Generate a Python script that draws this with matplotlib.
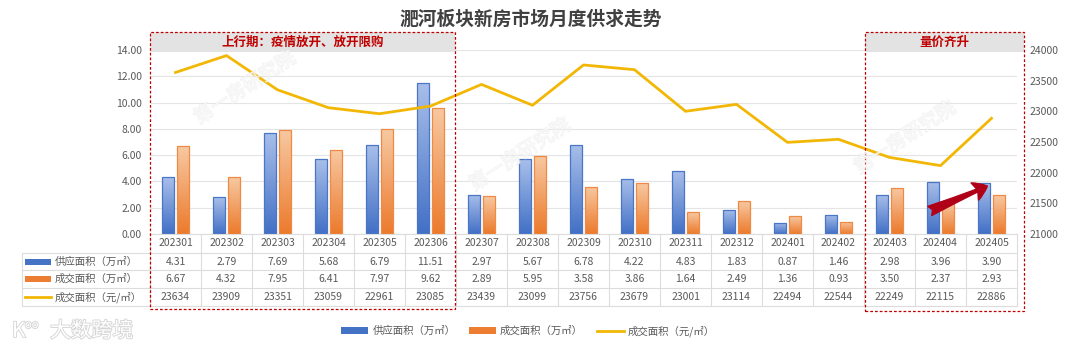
import matplotlib
matplotlib.use('Agg')
import matplotlib.pyplot as plt
import numpy as np
import matplotlib.transforms as mtransforms
import matplotlib.patheffects as pe
from matplotlib.patches import Rectangle, Patch, FancyArrowPatch
from matplotlib.lines import Line2D
from matplotlib.colors import LinearSegmentedColormap
from matplotlib.ticker import FormatStrFormatter

plt.rcParams['font.family'] = ['Noto Sans CJK SC', 'DejaVu Sans']

# ---------------- data ----------------
months = ['202301', '202302', '202303', '202304', '202305', '202306', '202307', '202308',
          '202309', '202310', '202311', '202312', '202401', '202402', '202403', '202404', '202405']
supply = [4.31, 2.79, 7.69, 5.68, 6.79, 11.51, 2.97, 5.67, 6.78, 4.22, 4.83, 1.83, 0.87, 1.46,
          2.98, 3.96, 3.90]
deal = [6.67, 4.32, 7.95, 6.41, 7.97, 9.62, 2.89, 5.95, 3.58, 3.86, 1.64, 2.49, 1.36, 0.93,
        3.50, 2.37, 2.93]
price = [23634, 23909, 23351, 23059, 22961, 23085, 23439, 23099, 23756, 23679, 23001, 23114,
         22494, 22544, 22249, 22115, 22886]
row_labels = ['供应面积（万㎡）', '成交面积（万㎡）', '成交面积（元/㎡）']
title = '淝河板块新房市场月度供求走势'
box1_label = '上行期：疫情放开、放开限购'
box2_label = '量价齐升'

BLUE = '#4472C4'
ORANGE = '#ED7D31'
GOLD = '#F2B705'
TXT = '#595959'

W, H = 1080, 353
fig = plt.figure(figsize=(W / 100, H / 100), dpi=100)
fig.patch.set_facecolor('white')


def fx(p):
    return p / W


def fy(p):
    return 1 - p / H


ax = fig.add_axes([fx(150), fy(234), 867 / W, (234 - 50) / H])
n = len(months)
x = np.arange(n)
ax.set_xlim(-0.5, n - 0.5)

# gradient bars
cm_blue = LinearSegmentedColormap.from_list('b', ['#4270C6', '#A9BFEA'])
cm_orange = LinearSegmentedColormap.from_list('o', ['#EC7A2C', '#F7C9A2'])
grad = np.linspace(0, 1, 128).reshape(-1, 1)
bw = 0.24
off = 0.14
b1 = ax.bar(x - off, supply, bw, facecolor='none', edgecolor='#4A76C6', lw=0.9, zorder=3)
b2 = ax.bar(x + off, deal, bw, facecolor='none', edgecolor='#EE8A45', lw=0.9, zorder=3)
for bars, cmap in ((b1, cm_blue), (b2, cm_orange)):
    for r in bars:
        x0, w, h = r.get_x(), r.get_width(), r.get_height()
        im = ax.imshow(grad, extent=[x0, x0 + w, 0, h], origin='lower', cmap=cmap,
                       aspect='auto', zorder=2.5, interpolation='bilinear')
        im.set_clip_path(r)

ax.set_xlim(-0.5, n - 0.5)
ax.set_ylim(0, 14)
ax.set_yticks(np.arange(0, 15, 2))
ax.yaxis.set_major_formatter(FormatStrFormatter('%.2f'))
ax.set_xticks([])
ax.yaxis.grid(True, color='#E4E4E4', lw=0.8)
ax.set_axisbelow(True)
for s in ax.spines.values():
    s.set_visible(False)
ax.tick_params(axis='y', length=0, labelsize=7.5, colors=TXT, pad=6)

ax2 = ax.twinx()
ax2.plot(x, price, color=GOLD, lw=2.0, zorder=5)
ax2.set_ylim(21000, 24000)
ax2.set_yticks(np.arange(21000, 24001, 500))
for s in ax2.spines.values():
    s.set_visible(False)
ax2.tick_params(axis='y', length=0, labelsize=7.5, colors=TXT, pad=9)

trans = mtransforms.blended_transform_factory(ax.transData, fig.transFigure)

# ---------------- data table ----------------
GRID = '#DCDCDC'
row_y = [243, 262, 279, 297]
for i, m in enumerate(months):
    ax.text(i, fy(row_y[0]), m, transform=trans, ha='center', va='center',
            fontsize=7.5, color=TXT, clip_on=False)
    ax.text(i, fy(row_y[1]), '%.2f' % supply[i], transform=trans, ha='center', va='center',
            fontsize=7.5, color=TXT, clip_on=False)
    ax.text(i, fy(row_y[2]), '%.2f' % deal[i], transform=trans, ha='center', va='center',
            fontsize=7.5, color=TXT, clip_on=False)
    ax.text(i, fy(row_y[3]), '%d' % price[i], transform=trans, ha='center', va='center',
            fontsize=7.5, color=TXT, clip_on=False)

fig.add_artist(Line2D([-0.5, n - 0.5], [fy(234), fy(234)], transform=trans, color=GRID, lw=0.8))
for yy in (253, 270, 288, 306):
    fig.add_artist(Line2D([fx(22), fx(1017)], [fy(yy), fy(yy)], transform=fig.transFigure,
                          color=GRID, lw=0.8))
for k in range(n + 1):
    fig.add_artist(Line2D([k - 0.5, k - 0.5], [fy(234), fy(306)], transform=trans,
                          color=GRID, lw=0.8))
fig.add_artist(Line2D([fx(22), fx(22)], [fy(253), fy(306)], transform=fig.transFigure,
                      color=GRID, lw=0.8))

for j, lab in enumerate(row_labels):
    yc = row_y[j + 1]
    if j < 2:
        fig.add_artist(Rectangle((fx(25), fy(yc + 3)), fx(26), 6 / H, transform=fig.transFigure,
                                 facecolor=[BLUE, ORANGE][j], edgecolor='none'))
    else:
        fig.add_artist(Line2D([fx(25), fx(51)], [fy(yc), fy(yc)], transform=fig.transFigure,
                              color=GOLD, lw=2))
    fig.text(fx(55), fy(yc), lab, ha='left', va='center', fontsize=7.5, color=TXT)

# ---------------- highlight boxes ----------------
RED = '#C00000'
for (xa, xb, ybot, lab) in ((-0.5, 5.48, 309, box1_label), (13.52, 16.64, 311, box2_label)):
    fig.add_artist(Rectangle((xa, fy(52)), xb - xa, 20 / H, transform=trans,
                             facecolor='#E3E3E3', edgecolor='none', zorder=1))
    fig.add_artist(Rectangle((xa, fy(ybot)), xb - xa, (ybot - 32) / H, transform=trans,
                             fill=False, edgecolor=RED, lw=0.9, ls=(0, (2.2, 1.6)), zorder=6))
    fig.text((xa + xb) / 2, fy(42), lab, transform=trans, ha='center', va='center',
             fontsize=9, color=RED, fontweight='bold', zorder=7)

# ---------------- title ----------------
fig.text(fx(531), fy(19), title, ha='center', va='center', fontsize=13.5,
         fontweight='bold', color='#404040')

# ---------------- arrow ----------------
arr = FancyArrowPatch((14.74, 1.67), (15.97, 3.73),
                      arrowstyle='fancy,head_length=0.55,head_width=0.75,tail_width=0.4',
                      mutation_scale=18, color='#B00018', zorder=8)
ax.add_patch(arr)

# ---------------- watermarks ----------------
wm_fx = [pe.withStroke(linewidth=0.9, foreground='#E6E6E6')]
for (cx, cy) in ((245, 88), (520, 155), (905, 138)):
    fig.text(fx(cx), fy(cy), '第一房研究院', ha='center', va='center', rotation=33,
             fontsize=14, color=(1, 1, 1, 0.3), path_effects=wm_fx, zorder=9, alpha=0.5)

# logo
logo_fx = [pe.withStroke(linewidth=1.3, foreground='#D5D5D5')]
fig.text(fx(12), fy(331), 'K', ha='left', va='center', fontsize=15, color='white',
         path_effects=logo_fx)
fig.text(fx(25), fy(325), 'oo', ha='left', va='center', fontsize=8, color='white',
         path_effects=logo_fx)
fig.text(fx(50), fy(331), '大数跨境', ha='left', va='center', fontsize=15, color='white',
         path_effects=logo_fx)

# ---------------- legend ----------------
handles = [Patch(facecolor=BLUE, edgecolor='none'), Patch(facecolor=ORANGE, edgecolor='none'),
           Line2D([0], [0], color=GOLD, lw=2)]
leg = fig.legend(handles, row_labels, loc='center', bbox_to_anchor=(fx(528), fy(331)), ncol=3,
                 frameon=False, fontsize=7.5, handlelength=2.6, handleheight=0.55,
                 columnspacing=1.3, handletextpad=0.4)
for t in leg.get_texts():
    t.set_color(TXT)

fig.savefig('out.png', dpi=100, facecolor='white')
